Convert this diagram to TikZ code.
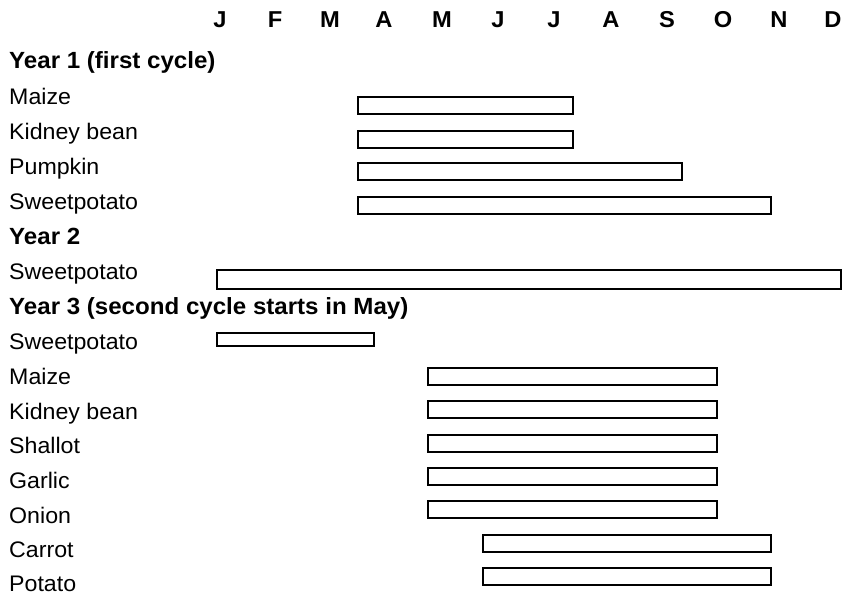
\documentclass[tikz,border=0pt]{standalone}
\usepackage{fontspec}
\setmainfont{Liberation Sans}[FakeStretch=1.03]
\begin{document}
\begin{tikzpicture}[x=1pt,y=-1pt,
  lbl/.style={anchor=base west,inner sep=0pt,font=\fontsize{22.5}{26}\selectfont},
  hdr/.style={lbl,font=\fontsize{23.4}{26}\selectfont\bfseries},
  mon/.style={anchor=base,inner sep=0pt,font=\fontsize{23}{26}\selectfont\bfseries},
  bar/.style={draw=black,line width=2pt,fill=white}]
\useasboundingbox (0,0) rectangle (851,596);

% month header
\foreach \m/\x [count=\i] in {J/220,F/275,M/330,A/384,M/442,J/498,J/554,A/611,S/667,O/723,N/779,D/833}
  \node[mon] (m\i) at (\x,28) {\m};

% row labels
\node[hdr] (y1)   at (9,69)  {Year 1 (first cycle)};
\node[lbl] (y1a)  at (9,105) {Maize};
\node[lbl] (y1b)  at (9,140) {Kidney bean};
\node[lbl] (y1c)  at (9,175) {Pumpkin};
\node[lbl] (y1d)  at (9,210) {Sweetpotato};
\node[hdr] (y2)   at (9,244) {Year 2};
\node[lbl] (y2a)  at (9,279) {Sweetpotato};
\node[hdr] (y3)   at (9,314) {Year 3 (second cycle starts in May)};
\node[lbl] (y3a)  at (9,349) {Sweetpotato};
\node[lbl] (y3b)  at (9,384) {Maize};
\node[lbl] (y3c)  at (9,419) {Kidney bean};
\node[lbl] (y3d)  at (9,453) {Shallot};
\node[lbl] (y3e)  at (9,488) {Garlic};
\node[lbl] (y3f)  at (9,523) {Onion};
\node[lbl] (y3g)  at (9,557) {Carrot};
\node[lbl] (y3h)  at (9,591) {Potato};

% growing periods, year 1
\draw[bar] (358,97)  rectangle (573,114);
\draw[bar] (358,131) rectangle (573,148);
\draw[bar] (358,163) rectangle (682,180);
\draw[bar] (358,197) rectangle (771,214);
% year 2
\draw[bar] (217,270) rectangle (841,289);
% year 3
\draw[bar] (217,333) rectangle (374,346);
\draw[bar] (428,368) rectangle (717,385);
\draw[bar] (428,401) rectangle (717,418);
\draw[bar] (428,435) rectangle (717,452);
\draw[bar] (428,468) rectangle (717,485);
\draw[bar] (428,501) rectangle (717,518);
\draw[bar] (483,535) rectangle (771,552);
\draw[bar] (483,568) rectangle (771,585);
\end{tikzpicture}
\end{document}
